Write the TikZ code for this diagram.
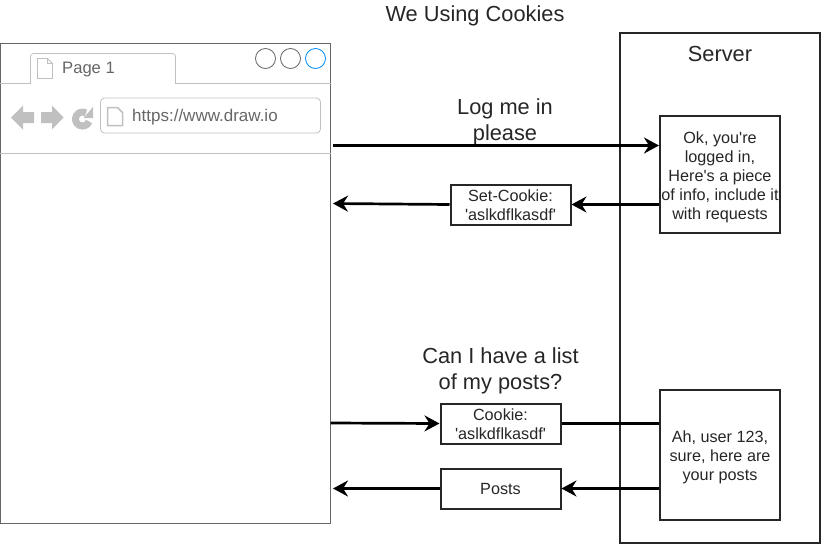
\documentclass[tikz,border=0pt]{standalone}
\usepackage{fontspec}
\newfontfamily\drawfont{Liberation Sans}
\usepackage{tikz}
\usetikzlibrary{arrows.meta, positioning}
\definecolor{chromegray}{HTML}{C0C0C0}
\definecolor{framegray}{HTML}{666666}
\definecolor{selblue}{HTML}{008CFF}
\tikzset{
    msgbox/.style={draw=black!85, line width=2pt, inner sep=0pt, align=center, font=\drawfont\fontsize{16.2}{19}\selectfont, text=black!85},
    boxtext/.style={inner sep=0pt, align=center, font=\drawfont\fontsize{16.2}{19}\selectfont, text=black!85},
    bigtext/.style={inner sep=0pt, align=center, font=\drawfont\fontsize{21.8}{26}\selectfont, text=black!85},
    msg/.style={line width=2.7pt, black, -{Stealth[length=15pt,width=16pt,inset=5pt]}},
    plainmsg/.style={line width=2.7pt, black},
    chrome/.style={draw=chromegray, line width=0.8pt},
    pageicon/.style={draw=chromegray, fill=white, line width=0.8pt},
    navicon/.style={fill=chromegray, draw=none},
}
\begin{document}
\begin{tikzpicture}[x=1pt, y=-1pt]
    \useasboundingbox (0,0) rectangle (822,544);
    % Title
    \node[bigtext] (title) at (475,16) {We Using Cookies};

    % Browser
    \node[draw=framegray, line width=0.8pt, minimum width=330pt, minimum height=480pt, inner sep=0pt] (browser) at (165.5,283.5) {};
    \draw[chrome] (browser.west |- 0,83.5) -- (30.5,83.5) -- (30.5,57) [rounded corners=3pt] -- (30.5,53.5) -- (175.5,53.5) [sharp corners] -- (175.5,83.5) -- (browser.east |- 0,83.5);
    \draw[chrome] (browser.west |- 0,153.5) -- (browser.east |- 0,153.5);
    \draw[pageicon] (37.5,58.5) -- (47.5,58.5) -- (52.5,63.5) -- (52.5,78.5) -- (37.5,78.5) -- cycle;
    \draw[chromegray, line width=0.8pt] (47.5,58.5) -- (47.5,63.5) -- (52.5,63.5);
    \node[inner sep=0pt, anchor=west, text=framegray, font=\drawfont\fontsize{16.6}{20}\selectfont] (tab) at (62,69.5) {Page 1};
    \node[circle, draw=framegray, line width=0.8pt, minimum size=20pt, inner sep=0pt] (btnmin) at (265.5,58.5) {};
    \node[circle, draw=framegray, line width=0.8pt, minimum size=20pt, inner sep=0pt] (btnmax) at (290.5,58.5) {};
    \node[circle, draw=selblue, line width=0.8pt, minimum size=20pt, inner sep=0pt] (btnclose) at (315.5,58.5) {};

    % Toolbar
    \fill[navicon] (11,117.5) -- (23,105.5) -- (23,112) -- (34,112) -- (34,123) -- (23,123) -- (23,129.5) -- cycle;
    \fill[navicon] (63.5,117.5) -- (52,105.5) -- (52,112) -- (41,112) -- (41,123) -- (52,123) -- (52,129.5) -- cycle;
    \draw[chromegray, line width=7pt] (86,113) arc[start angle=60, end angle=340, radius=7pt];
    \fill[navicon] (93,107) -- (93,118) -- (83.5,118) -- cycle;
    \node[draw=chromegray, line width=0.8pt, rounded corners=4pt, minimum width=220pt, minimum height=35pt, inner sep=0pt] (address) at (210.5,115.5) {};
    \draw[pageicon, line width=1.5pt] (107.5,107.5) -- (117.5,107.5) -- (122.5,112.5) -- (122.5,125.5) -- (107.5,125.5) -- cycle;
    \node[inner sep=0pt, anchor=west, text=framegray, font=\drawfont\fontsize{17}{20}\selectfont] (url) at (132,117.5) {https://www.draw.io};

    % Server
    \node[draw=black!85, line width=2pt, minimum width=200pt, minimum height=510pt, inner sep=0pt] (server) at (720,288) {};
    \node[bigtext] (servername) at (720,54) {Server};
    \node[msgbox, minimum width=120pt, minimum height=117pt] (okbox) at (720,174.5) {};
    \node[boxtext] (oktext) at (720,177) {Ok, you're\\logged in,\\Here's a piece\\of info, include it\\with requests};
    \node[msgbox, minimum width=120pt, minimum height=130pt] (ahbox) at (720,455) {};
    \node[boxtext] (ahtext) at (720,457) {Ah, user 123,\\sure, here are\\your posts};

    % Messages
    \node[bigtext] (login) at (505,122) {Log me in\\please};
    \node[msgbox, minimum width=120pt, minimum height=40pt] (setcookie) at (510.5,204.5) {};
    \node[boxtext] (settext) at (510.5,205.5) {Set-Cookie:\\'aslkdflkasdf'};
    \node[bigtext] (askposts) at (500.5,371) {Can I have a list\\of my posts?};
    \node[msgbox, minimum width=120pt, minimum height=40pt] (cookie) at (500.5,423.5) {};
    \node[boxtext] (cookietext) at (500.5,424.5) {Cookie:\\'aslkdflkasdf'};
    \node[msgbox, minimum width=120pt, minimum height=40pt] (posts) at (500.5,488.5) {Posts};

    % Free ends at the browser
    \coordinate (loginstart) at (333,145.5);
    \coordinate (setend) at (333,203.5);
    \coordinate (cookiestart) at (330.5,423);
    \coordinate (postsend) at (333,488.5);

    % Arrows
    \draw[msg] (loginstart) -- (okbox.west |- loginstart);
    \draw[msg] (okbox.west |- 0,204.5) -- (setcookie.east);
    \draw[msg] (setcookie.west) -- (setend);
    \draw[msg] (cookiestart) -- (cookie.west);
    \draw[plainmsg] (ahbox.west |- cookie.east) -- (cookie.east);
    \draw[msg] (ahbox.west |- posts.east) -- (posts.east);
    \draw[msg] (posts.west) -- (postsend);
\end{tikzpicture}
\end{document}
